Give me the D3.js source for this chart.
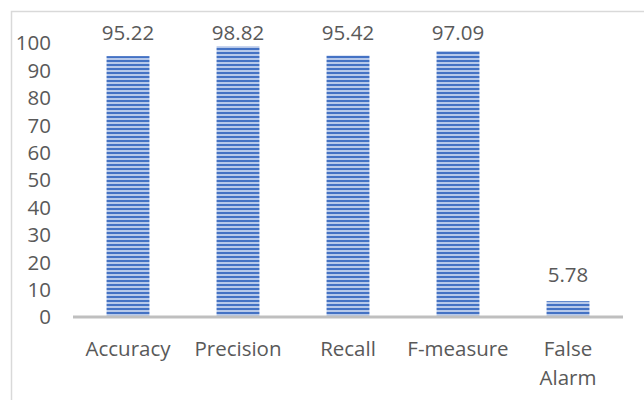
<!DOCTYPE html>
<html>
<head>
<meta charset="utf-8">
<script src="https://cdn.jsdelivr.net/npm/d3@7"></script>
<style>
  body { margin: 0; background: #fff; }
  text { font-family: "Open Sans", sans-serif; fill: #595959; }
</style>
</head>
<body>
<script>
var categories = ["Accuracy", "Precision", "Recall", "F-measure", "False Alarm"];
var values = [95.22, 98.82, 95.42, 97.09, 5.78];
var yTicks = [0, 10, 20, 30, 40, 50, 60, 70, 80, 90, 100];

var svgWidth = 644;
var svgHeight = 400;

var svg = d3.select("body")
    .append("svg")
    .attr("width", svgWidth)
    .attr("height", svgHeight);

// striped fill like the Excel pattern
var defs = svg.append("defs");
var pattern = defs.append("pattern")
    .attr("id", "stripes")
    .attr("patternUnits", "userSpaceOnUse")
    .attr("width", 8)
    .attr("height", 4);
pattern.append("rect")
    .attr("width", 8).attr("height", 4)
    .attr("fill", "#b7c9ea");
pattern.append("rect")
    .attr("width", 8).attr("height", 2)
    .attr("fill", "#4472c4");

// chart border
svg.append("path")
    .attr("d", "M11.5,402 V11.5 H646")
    .attr("fill", "none")
    .attr("stroke", "#d9d9d9")
    .attr("stroke-width", 1.5);

var xBandScale = d3.scaleBand()
    .domain(categories)
    .range([73, 623])
    .paddingInner(0.61)
    .paddingOuter(0.305);

var yLinearScale = d3.scaleLinear()
    .domain([0, 100])
    .range([317, 43]);

// y tick labels (no axis line in the reference)
svg.selectAll(".ytick")
    .data(yTicks)
    .enter()
    .append("text")
    .attr("class", "ytick")
    .attr("x", 51)
    .attr("y", d => yLinearScale(d))
    .attr("dy", "0.36em")
    .attr("text-anchor", "end")
    .style("font-size", "20.5px")
    .text(d => d);

svg.selectAll(".bar")
    .data(values)
    .enter()
    .append("rect")
    .attr("class", "bar")
    .attr("x", (d, i) => xBandScale(categories[i]))
    .attr("y", d => yLinearScale(d))
    .attr("width", xBandScale.bandwidth())
    .attr("height", d => yLinearScale(0) - yLinearScale(d))
    .attr("fill", "url(#stripes)");

// x axis baseline
svg.append("line")
    .attr("x1", 73).attr("x2", 623)
    .attr("y1", yLinearScale(0)).attr("y2", yLinearScale(0))
    .attr("stroke", "#bfbfbf")
    .attr("stroke-width", 3);

// value labels, kept inside the plot at the top
svg.selectAll(".vlabel")
    .data(values)
    .enter()
    .append("text")
    .attr("class", "vlabel")
    .attr("x", (d, i) => xBandScale(categories[i]) + xBandScale.bandwidth() / 2)
    .attr("y", d => Math.max(yLinearScale(d) - 19, 40))
    .attr("text-anchor", "middle")
    .style("font-size", "20.5px")
    .text(d => d.toFixed(2));

// category labels, wrapped on spaces for the long one
svg.selectAll(".xlabel")
    .data(categories)
    .enter()
    .append("text")
    .attr("class", "xlabel")
    .attr("text-anchor", "middle")
    .style("font-size", "20.5px")
    .each(function (d) {
        var cx = xBandScale(d) + xBandScale.bandwidth() / 2;
        var lines = d === "False Alarm" ? d.split(" ") : [d];
        d3.select(this).selectAll("tspan")
            .data(lines)
            .enter()
            .append("tspan")
            .attr("x", cx)
            .attr("y", (l, j) => 356 + j * 29)
            .text(l => l);
    });
</script>
</body>
</html>
